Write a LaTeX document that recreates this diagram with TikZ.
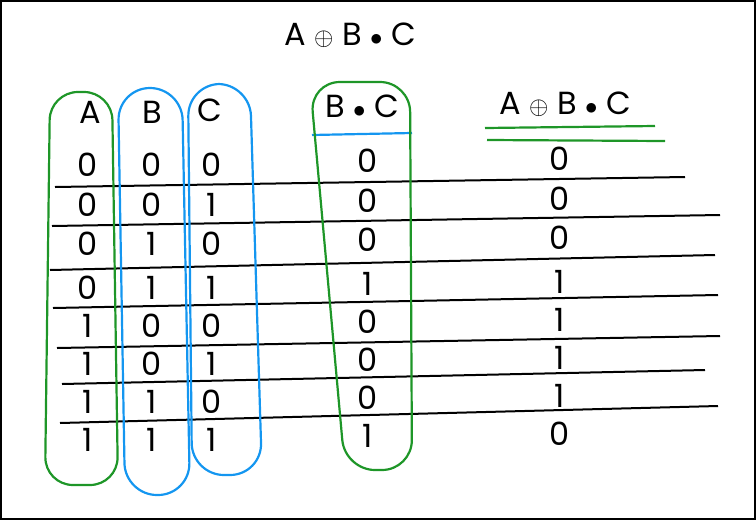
\documentclass[tikz,border=0pt]{standalone}
\usepackage{fontspec}
\setmainfont{Poppins}
\begin{document}
\begin{tikzpicture}[x=1pt,y=-1pt,
  t/.style={font=\fontsize{32}{32}\selectfont},
  row/.style={line width=2pt,black},
  gl/.style={line width=2.2pt,draw={rgb,255:red,30;green,150;blue,40}},
  bl/.style={line width=2.2pt,draw={rgb,255:red,20;green,150;blue,240}}]
\useasboundingbox (0,0) rectangle (756,520);
\draw[line width=1.5pt] (1,1) rectangle (755,519);
\node[t] (title) at (350,35) {A $\oplus$ B $\bullet$ C};
\node[t] (hA) at (90,112) {A};
\node[t] (hB) at (152,112) {B};
\node[t] (hC) at (210,110) {C};
\node[t] (hBC) at (362,106) {B $\bullet$ C};
\node[t] (hY) at (565,104) {A $\oplus$ B $\bullet$ C};
\draw[bl] (312,135) -- (412,133);
\draw[gl] (485,128) -- (655,126);
\draw[gl] (487,140) -- (665,141);
% rows
\draw[row] (55,187) -- (685,177);
\draw[row] (52,226) -- (720,215);
\draw[row] (50,270) -- (715,255);
\draw[row] (53,308) -- (718,295);
\draw[row] (57,348) -- (720,336);
\draw[row] (62,384) -- (705,370);
\draw[row] (60,423) -- (718,406);
% values
\foreach \y/\a/\b/\c/\d/\e [count=\i] in {
 165/0/0/0/0/0, 205/0/0/1/0/0, 244/0/1/0/0/0, 288/0/1/1/1/1,
 326/1/0/0/0/1, 364/1/0/1/0/1, 402/1/1/0/0/1, 440/1/1/1/1/0}{
  \node[t] (a\i) at (88,\y) {\a};
  \node[t] (b\i) at (152,\y) {\b};
  \node[t] (c\i) at (212,\y) {\c};
  \node[t] (d\i) at (368,\y-4) {\d};
  \node[t] (e\i) at (560,\y-6) {\e};
}
% ovals
\draw[gl,rounded corners=28] (50,92) -- (112,92) -- (118,485) -- (45,485) -- cycle;
\draw[bl,rounded corners=32] (118,88) -- (182,88) -- (190,495) -- (125,495) -- cycle;
\draw[bl,rounded corners=32] (188,84) -- (250,84) -- (262,475) -- (192,475) -- cycle;
\draw[gl,rounded corners=30] (310,82) -- (410,82) -- (412,470) -- (345,470) -- cycle;
\end{tikzpicture}
\end{document}
